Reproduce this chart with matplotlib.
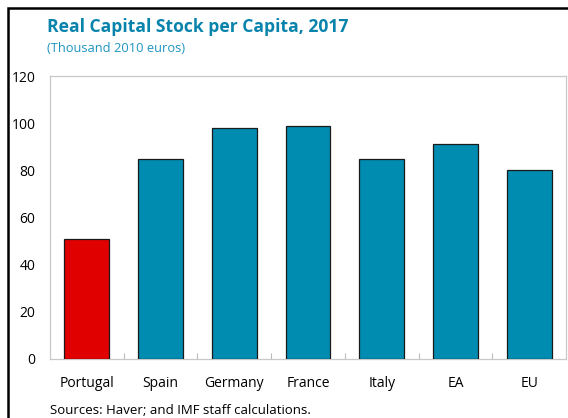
import matplotlib
matplotlib.use("Agg")
import matplotlib.pyplot as plt
from matplotlib.patches import Rectangle
import numpy as np

categories = ["Portugal", "Spain", "Germany", "France", "Italy", "EA", "EU"]
values = [51, 85, 98, 99, 85, 91, 80]
colors = ["#E00000", "#008BB0", "#008BB0", "#008BB0", "#008BB0", "#008BB0", "#008BB0"]
yticks = [0, 20, 40, 60, 80, 100, 120]

plt.rcParams['font.family'] = ['Open Sans', 'DejaVu Sans']

W, H = 568, 418
fig = plt.figure(figsize=(W/100, H/100), dpi=100)
ax = fig.add_axes([50/W, 1-359/H, (566-50)/W, (359-76)/H])

x = np.arange(len(categories))
ax.bar(x, values, width=0.61, color=colors, edgecolor="#1a1a1a", linewidth=0.9, zorder=3)
ax.set_xlim(-0.5, len(categories)-0.5)
ax.set_ylim(0, 120)
ax.set_yticks(yticks)
ax.set_yticklabels([str(v) for v in yticks], fontsize=10)
ax.tick_params(axis='y', length=0, pad=10.5, labelcolor="#000000")
ax.set_xticks(x)
ax.set_xticklabels(categories, fontsize=10)
ax.tick_params(axis='x', which='major', length=0, pad=12)
ax.set_xticks(np.arange(0.5, len(categories)-0.5, 1), minor=True)
ax.tick_params(axis='x', which='minor', direction='in', length=4, color="#bbbbbb", width=0.8)
for s in ax.spines.values():
    s.set_color("#c8c8c8")
    s.set_linewidth(0.9)

# outer black frame
fig.patches.append(Rectangle((8/W, -0.1), 1.2, 1-8/H+0.1, transform=fig.transFigure,
                             fill=False, edgecolor="black", linewidth=1.8))

fig.text(47/W, 1-27/H, "Real Capital Stock per Capita, 2017", fontsize=12.6, fontweight='bold',
         color="#0883AC", va='center', ha='left')
fig.text(47/W, 1-49/H, "(Thousand 2010 euros)", fontsize=9.3, color="#1F95C0", va='center', ha='left')
fig.text(50/W, 1-410.5/H, "Sources: Haver; and IMF staff calculations.", fontsize=9.5, color="#000000",
         va='center', ha='left')

fig.savefig("out.png", dpi=100)
